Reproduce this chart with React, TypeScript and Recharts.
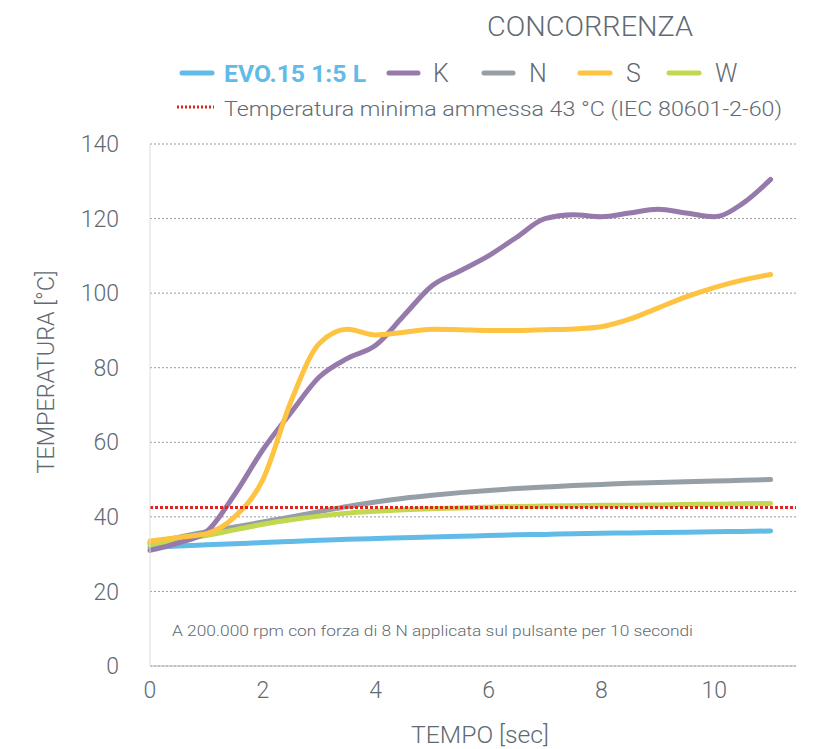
import React from "react";
import { LineChart, Line, XAxis, YAxis, CartesianGrid, ReferenceLine } from "recharts";

const times = [0, 0.5, 1, 1.5, 2, 2.5, 3, 3.5, 4, 4.5, 5, 5.5, 6, 6.5, 7, 7.5, 8, 8.5, 9, 9.5, 10, 10.5, 11];
const evo = [31.8, 32.2, 32.5, 32.8, 33.1, 33.4, 33.7, 34, 34.2, 34.4, 34.6, 34.8, 35, 35.2, 35.3, 35.5, 35.6, 35.7, 35.8, 35.9, 36, 36.1, 36.2];
const seriesK = [31, 33, 36, 46, 58, 68, 77.5, 82.5, 86, 94, 102, 106, 110, 115, 120, 121, 120.5, 121.5, 122.5, 121.5, 120.5, 124, 130.5];
const seriesN = [33, 34.5, 36, 37.3, 38.6, 40, 41.4, 42.8, 44, 45, 45.8, 46.5, 47.1, 47.6, 48, 48.4, 48.7, 49, 49.2, 49.4, 49.6, 49.8, 50];
const seriesS = [33.5, 34.5, 35.5, 40, 50, 71, 86.5, 90.3, 88.8, 89.5, 90.3, 90.2, 90, 90, 90.2, 90.4, 91, 93, 96, 99, 101.5, 103.5, 105];
const seriesW = [32.5, 33.8, 35, 36.5, 38, 39.2, 40.2, 41, 41.5, 41.9, 42.2, 42.4, 42.6, 42.8, 42.9, 43, 43.1, 43.1, 43.2, 43.3, 43.4, 43.5, 43.6];
const minTemp = 42.5;
const xTicks = [0, 2, 4, 6, 8, 10];
const yTicks = [0, 20, 40, 60, 80, 100, 120, 140];

const data = times.map((t, i) => ({
  t,
  evo: evo[i],
  K: seriesK[i],
  N: seriesN[i],
  S: seriesS[i],
  W: seriesW[i],
}));

const TXT = "#5f6a72";
const FONT = "Roboto, 'Noto Sans', sans-serif";
const C = { evo: "#62bbe7", K: "#967aab", N: "#959fa5", S: "#fdc341", W: "#c2d94f", red: "#e3211e" };

export default function App() {
  return (
    <div style={{ position: "relative", width: 819, height: 741, fontFamily: FONT }}>
      <LineChart width={819} height={741} data={data} margin={{ top: 136, right: 31, bottom: 43, left: 0 }}>
        <CartesianGrid vertical={false} stroke="#9a9a9a" strokeDasharray="2 2" />
        <XAxis
          dataKey="t"
          type="number"
          domain={[0, 11.45]}
          ticks={xTicks}
          height={40}
          tickLine={false}
          tickMargin={10}
          axisLine={{ stroke: "#b5b5b5" }}
          tick={{ fill: TXT, fontSize: 23, fontFamily: FONT, fontWeight: 300 }}
        />
        <YAxis
          type="number"
          domain={[0, 140]}
          ticks={yTicks}
          width={142}
          tickLine={false}
          tickMargin={25}
          axisLine={{ stroke: "#dddddd" }}
          tick={{ fill: TXT, fontSize: 23, fontFamily: FONT, fontWeight: 300 }}
        />
        <Line dataKey="evo" type="monotone" stroke={C.evo} strokeWidth={5} dot={false} strokeLinecap="round" isAnimationActive={false} />
        <Line dataKey="N" type="monotone" stroke={C.N} strokeWidth={5} dot={false} strokeLinecap="round" isAnimationActive={false} />
        <Line dataKey="W" type="monotone" stroke={C.W} strokeWidth={5} dot={false} strokeLinecap="round" isAnimationActive={false} />
        <Line dataKey="K" type="monotone" stroke={C.K} strokeWidth={5} dot={false} strokeLinecap="round" isAnimationActive={false} />
        <Line dataKey="S" type="monotone" stroke={C.S} strokeWidth={5} dot={false} strokeLinecap="round" isAnimationActive={false} />
        <ReferenceLine y={minTemp} stroke={C.red} strokeWidth={3} strokeDasharray="3 2" />
      </LineChart>
      <svg width={819} height={741} style={{ position: "absolute", left: 0, top: 0, pointerEvents: "none" }} fontFamily={FONT} fontWeight={300}>
        <text x={582} y={28} textAnchor="middle" fontSize={28} fill={TXT} textLength={206} lengthAdjust="spacingAndGlyphs">CONCORRENZA</text>
        <line x1={174} x2={204} y1={65} y2={65} stroke={C.evo} strokeWidth={5} strokeLinecap="round" />
        <text x={216} y={74} fontSize={24} fontWeight={700} fill={C.evo} textLength={142} lengthAdjust="spacingAndGlyphs">EVO.15 1:5 L</text>
        <line x1={381} x2={410} y1={65} y2={65} stroke={C.K} strokeWidth={5} strokeLinecap="round" />
        <text x={425} y={74} fontSize={25} fill={TXT}>K</text>
        <line x1={476} x2={505} y1={65} y2={65} stroke={C.N} strokeWidth={5} strokeLinecap="round" />
        <text x={521} y={74} fontSize={25} fill={TXT}>N</text>
        <line x1={572} x2={602} y1={65} y2={65} stroke={C.S} strokeWidth={5} strokeLinecap="round" />
        <text x={618} y={74} fontSize={25} fill={TXT}>S</text>
        <line x1={661} x2={691} y1={65} y2={65} stroke={C.W} strokeWidth={5} strokeLinecap="round" />
        <text x={707} y={74} fontSize={25} fill={TXT}>W</text>
        <line x1={169} x2={206} y1={99} y2={99} stroke={C.red} strokeWidth={3} strokeDasharray="2 2" />
        <text x={216} y={108} fontSize={21} fill={TXT} textLength={558} lengthAdjust="spacingAndGlyphs">Temperatura minima ammessa 43 °C (IEC 80601-2-60)</text>
        <text x={164} y={628} fontSize={14} fill={TXT} textLength={521} lengthAdjust="spacingAndGlyphs">A 200.000 rpm con forza di 8 N applicata sul pulsante per 10 secondi</text>
        <text x={472} y={735} textAnchor="middle" fontSize={24} fill={TXT} textLength={138} lengthAdjust="spacingAndGlyphs">TEMPO [sec]</text>
        <text x={0} y={0} textAnchor="middle" fontSize={24} fill={TXT} textLength={203} lengthAdjust="spacingAndGlyphs" transform="translate(46 364) rotate(-90)">TEMPERATURA [°C]</text>
      </svg>
    </div>
  );
}
